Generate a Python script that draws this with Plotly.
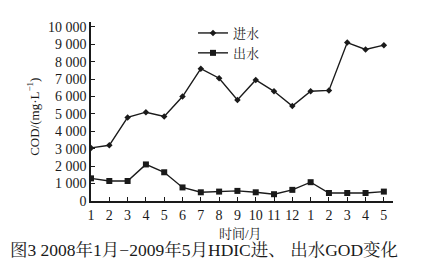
import plotly.graph_objects as go

months = ["1", "2", "3", "4", "5", "6", "7", "8", "9", "10", "11", "12", "1", "2", "3", "4", "5"]
x_pos = list(range(1, len(months) + 1))
inflow = [3050, 3200, 4800, 5100, 4850, 6000, 7600, 7050, 5800, 6950, 6300, 5450, 6300, 6350, 9100, 8700, 8950]
outflow = [1300, 1150, 1150, 2100, 1650, 780, 500, 540, 580, 500, 390, 640, 1080, 460, 460, 460, 540]
y_ticks = [0, 1000, 2000, 3000, 4000, 5000, 6000, 7000, 8000, 9000, 10000]
y_labels = ["0", "1 000", "2 000", "3 000", "4 000", "5 000", "6 000", "7 000", "8 000", "9 000", "10 000"]

FONT = "Liberation Serif, Noto Serif CJK SC, Noto Sans CJK SC, serif"
INK = "#1a1a1a"

W, H = 430, 265
L, R, T, B = 91, 37, 22, 64
pw = W - L - R
ph = H - T - B

fig = go.Figure()
fig.add_trace(go.Scatter(x=x_pos, y=inflow, name="进水", mode="lines+markers",
                         line=dict(color=INK, width=1.4),
                         marker=dict(symbol="diamond", size=5, color=INK)))
fig.add_trace(go.Scatter(x=x_pos, y=outflow, name="出水", mode="lines+markers",
                         line=dict(color=INK, width=1.4),
                         marker=dict(symbol="square", size=6, color=INK)))

fig.update_layout(
    width=W, height=H,
    margin=dict(l=L, r=R, t=T, b=B),
    paper_bgcolor="white", plot_bgcolor="white",
    font=dict(family=FONT, size=13, color=INK),
    showlegend=True,
    legend=dict(x=(193 - L) / pw, y=1.0 + 4 / ph, xanchor="left", yanchor="top",
                bgcolor="rgba(0,0,0,0)", itemwidth=30, tracegroupgap=0,
                font=dict(size=13, family=FONT)),
    xaxis=dict(range=[1, 17.5], tickmode="array", tickvals=x_pos, ticktext=months,
               showgrid=False, zeroline=False, showline=True, linecolor=INK, linewidth=1.5,
               ticks="inside", ticklen=4, tickcolor=INK, tickwidth=1,
               tickfont=dict(size=14, family=FONT)),
    yaxis=dict(range=[0, 10280], tickmode="array", tickvals=y_ticks, ticktext=y_labels,
               showgrid=False, zeroline=False, showline=True, linecolor=INK, linewidth=1.5,
               ticks="inside", ticklen=4, tickcolor=INK, tickwidth=1,
               tickfont=dict(size=14, family=FONT)),
    annotations=[
        dict(text="COD/(mg·L<sup>−1</sup>)", textangle=-90, xref="paper", yref="paper",
             x=(33 - L) / pw, y=0.47, xanchor="center", yanchor="middle",
             showarrow=False, font=dict(size=13, family=FONT)),
        dict(text="时间/月", xref="paper", yref="paper",
             x=(240 - L) / pw, y=-(233 - (H - B)) / ph, xanchor="center", yanchor="middle",
             showarrow=False, font=dict(size=13, family=FONT)),
        dict(text="图3 2008年1月−2009年5月HDIC进、 出水GOD变化", xref="paper", yref="paper",
             x=(204 - L) / pw, y=-(250 - (H - B)) / ph, xanchor="center", yanchor="middle",
             showarrow=False, font=dict(size=17.5, family=FONT)),
    ],
)

fig.write_html("out.html")
